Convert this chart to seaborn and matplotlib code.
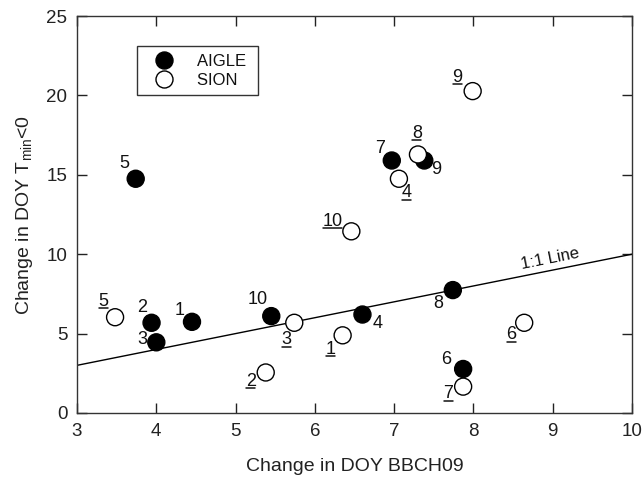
import matplotlib
matplotlib.use("Agg")
import matplotlib.pyplot as plt
from matplotlib.lines import Line2D
import seaborn as sns
import pandas as pd

# Station-year changes: x = change in DOY of BBCH09, y = change in DOY of Tmin<0
aigle_ids = [1, 2, 3, 4, 5, 6, 7, 8, 9, 10]
aigle_x = [4.45, 3.94, 4.00, 6.60, 3.74, 7.87, 6.97, 7.74, 7.38, 5.45]
aigle_y = [5.74, 5.68, 4.45, 6.20, 14.75, 2.77, 15.90, 7.74, 15.90, 6.10]

sion_ids = [1, 2, 3, 4, 5, 6, 7, 8, 9, 10]
sion_x = [6.35, 5.38, 5.74, 7.06, 3.48, 8.64, 7.87, 7.30, 7.99, 6.46]
sion_y = [4.89, 2.55, 5.68, 14.75, 6.03, 5.68, 1.66, 16.28, 20.27, 11.44]

# label offsets (pixels) relative to each marker
aigle_off = [(-12, 11), (-9, 15), (-14, 3), (15, -9), (-11, 15),
             (-17, 9), (-12, 12), (-15, -13), (12, -9), (-14, 17)]
sion_off = [(-12, -14), (-15, -9), (-8, -17), (8, -14), (-12, 16),
            (-13, -12), (-15, -7), (-1, 21), (-15, 14), (-19, 10)]

sns.set_style("ticks")
plt.rcParams["font.family"] = ["Liberation Sans", "DejaVu Sans"]
plt.rcParams["mathtext.fontset"] = "custom"
plt.rcParams["mathtext.rm"] = "Liberation Sans"
plt.rcParams["mathtext.it"] = "Liberation Sans"

df = pd.DataFrame({
    "x": aigle_x + sion_x,
    "y": aigle_y + sion_y,
    "site": ["AIGLE"] * len(aigle_x) + ["SION"] * len(sion_x),
})

fig = plt.figure(figsize=(6.44, 4.82), dpi=100)
ax = fig.add_axes([0.1196, 0.1432, 0.8618, 0.8236])

sns.scatterplot(data=df, x="x", y="y", hue="site",
                palette={"AIGLE": "black", "SION": "white"},
                edgecolor="black", linewidth=1.0, s=150, ax=ax, zorder=3)

# 1:1 reference line
ax.plot([3, 10], [3, 10], color="black", lw=1.0, zorder=2)
ax.text(8.97, 9.72, "1:1 Line", rotation=11.3, ha="center", va="center",
        fontsize=12, rotation_mode="anchor", color="#111111")

ax.set_xlim(3, 10)
ax.set_ylim(0, 25)
ax.set_xticks(range(3, 11))
ax.set_yticks(range(0, 26, 5))
ax.tick_params(direction="in", length=7, width=1, colors="#222222",
               labelsize=13.5, bottom=True, left=True, top=True, right=True,
               labelcolor="#222222", pad=7)
for sp in ax.spines.values():
    sp.set_visible(True)
    sp.set_color("#333333")
    sp.set_linewidth(1.0)

ax.set_xlabel("Change in DOY BBCH09", fontsize=14, labelpad=13,
              color="#222222")
ax.set_ylabel(r"Change in DOY T$_{\mathrm{min}}$<0", fontsize=14,
              labelpad=8, color="#222222")

handles, labels = ax.get_legend_handles_labels()
leg = ax.legend(handles, [lab + " " for lab in labels], loc="upper left",
                bbox_to_anchor=(0.108, 0.924), borderaxespad=0,
                frameon=True, fancybox=False, edgecolor="black",
                fontsize=12, handletextpad=0.75, borderpad=0.45,
                labelspacing=0.25, handlelength=2.4)
leg.get_frame().set_linewidth(1.0)
for txt in leg.get_texts():
    txt.set_color("#111111")

for i, x, y, (dx, dy) in zip(aigle_ids, aigle_x, aigle_y, aigle_off):
    ax.annotate(str(i), (x, y), xytext=(dx, dy), textcoords="offset pixels",
                ha="center", va="center", fontsize=13, color="#111111")

under = []
for i, x, y, (dx, dy) in zip(sion_ids, sion_x, sion_y, sion_off):
    t = ax.annotate(str(i), (x, y), xytext=(dx, dy),
                    textcoords="offset pixels",
                    ha="center", va="center", fontsize=13, color="#111111")
    under.append(t)

# underline the SION labels just beneath the digits
fig.canvas.draw()
r = fig.canvas.get_renderer()
W, H = fig.bbox.width, fig.bbox.height
for t in under:
    bb = t.get_window_extent(r)
    yy = bb.y0 + 1.5
    fig.add_artist(Line2D([(bb.x0 + 0.5) / W, (bb.x1 - 0.5) / W],
                          [yy / H, yy / H],
                          transform=fig.transFigure, color="#111111",
                          lw=1.1))

fig.savefig("out.png", dpi=100)
